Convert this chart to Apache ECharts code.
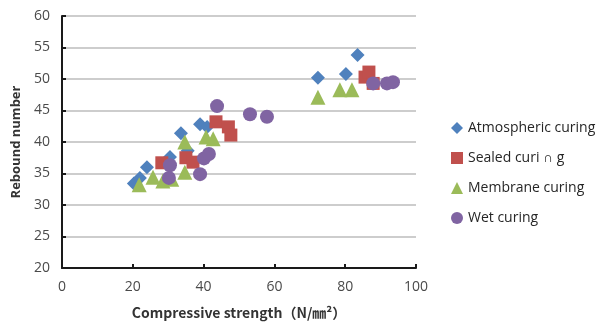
<!DOCTYPE html>
<html>
<head>
<meta charset="utf-8">
<script src="https://cdn.jsdelivr.net/npm/echarts@6/dist/echarts.min.js"></script>
<style>
  html, body { margin: 0; padding: 0; background: #fff; }
  #chart { width: 602px; height: 329px; }
</style>
</head>
<body>
<div id="chart"></div>
<script>
// Compressive strength (N/mm²) vs rebound number, by curing method
const atmospheric = [[20.3,33.4],[22,34.3],[24,36],[30.5,37.6],[33.6,41.4],[35.5,38.6],[39,42.8],[41,42.4],[72.3,50.2],[80.2,50.8],[83.5,53.8]];
const sealed = [[28.2,36.7],[35,37.5],[37,36.8],[43.5,43.2],[47,42.4],[47.7,41.1],[85.6,50.3],[86.7,51.1],[87.9,49.3]];
const membrane = [[21.8,33.2],[25.7,34.4],[28.5,33.8],[31,34.1],[34.7,35.2],[34.7,40.0],[40.7,40.8],[42.7,40.5],[72.3,47.1],[78.5,48.3],[81.9,48.3]];
const wet = [[30.5,36.3],[30.2,34.3],[39,34.9],[40.1,37.4],[41.5,38.1],[43.8,45.7],[53.1,44.4],[57.9,44.0],[87.9,49.3],[91.8,49.3],[93.5,49.5]];

const seriesNames = ['Atmospheric curing', 'Sealed curi ∩ g', 'Membrane curing', 'Wet curing'];
const seriesData = [atmospheric, sealed, membrane, wet];
const colors = ['#4F81BD', '#C0504D', '#9BBB59', '#8064A2'];
const symbols = ['diamond', 'rect', 'triangle', 'circle'];
const sizes = [14, 13, 15, 14];

const font = '"Open Sans", "Noto Sans", sans-serif';

const chart = echarts.init(document.getElementById('chart'));
chart.setOption({
  animation: false,
  color: colors,
  grid: { left: 62, right: 186, top: 16, bottom: 61 },
  legend: {
    orient: 'vertical',
    left: 446,
    top: 114,
    itemGap: 12,
    itemWidth: 12,
    itemHeight: 12,
    textStyle: { fontFamily: font, fontSize: 14, color: '#262626', lineHeight: 18 },
    data: seriesNames.map((n, i) => ({ name: n, icon: symbols[i] }))
  },
  xAxis: {
    type: 'value', min: 0, max: 100, interval: 20,
    name: 'Compressive strength（N/㎜²）',
    nameLocation: 'middle', nameGap: 38,
    nameTextStyle: { fontFamily: '"Noto Sans CJK SC", "Noto Sans", sans-serif', fontSize: 14, fontWeight: 'bold', color: '#333' },
    axisLine: { lineStyle: { color: '#1a1a1a', width: 2 } },
    axisTick: { inside: true, length: 4, lineStyle: { color: '#1a1a1a', width: 2 } },
    axisLabel: { fontFamily: font, fontSize: 14, color: '#4a4a4a', margin: 12 },
    splitLine: { show: false }
  },
  yAxis: {
    type: 'value', min: 20, max: 60, interval: 5,
    name: 'Rebound number',
    nameLocation: 'middle', nameGap: 38,
    nameTextStyle: { fontFamily: font, fontSize: 13, fontWeight: 'bold', color: '#333' },
    axisLine: { show: true, lineStyle: { color: '#1a1a1a', width: 2 } },
    axisTick: { show: true, inside: true, length: 4, lineStyle: { color: '#1a1a1a', width: 2 } },
    axisLabel: { fontFamily: font, fontSize: 14, color: '#4a4a4a', margin: 12 },
    splitLine: { lineStyle: { color: '#bdbdbd', width: 1.5 } }
  },
  series: seriesNames.map((n, i) => ({
    name: n,
    type: 'scatter',
    symbol: symbols[i],
    symbolSize: sizes[i],
    data: seriesData[i],
    itemStyle: { color: colors[i], opacity: 1 }
  }))
});
</script>
</body>
</html>
